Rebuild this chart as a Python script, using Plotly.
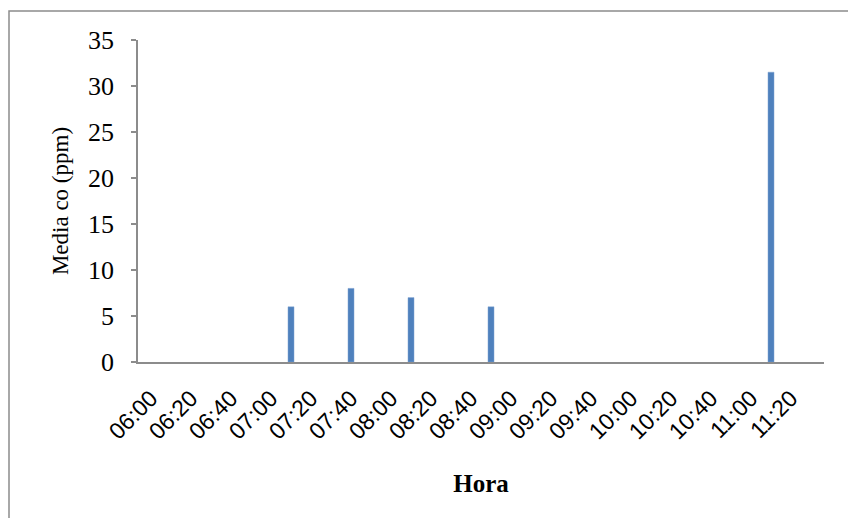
import plotly.graph_objects as go

# Data
bar_times = ["07:10", "07:40", "08:10", "08:50", "11:10"]
co_values = [6, 8, 7, 6, 31.5]
tick_labels = ["06:00", "06:20", "06:40", "07:00", "07:20", "07:40", "08:00", "08:20",
               "08:40", "09:00", "09:20", "09:40", "10:00", "10:20", "10:40", "11:00", "11:20"]
y_ticks = [0, 5, 10, 15, 20, 25, 30, 35]

DAY = "2000-01-01 "
xs = [DAY + t + ":00" for t in bar_times]
tickvals = [DAY + t + ":00" for t in tick_labels]

fig = go.Figure()
fig.add_trace(go.Bar(
    x=xs, y=co_values,
    width=180000,
    marker=dict(color="#4F81BD", line=dict(color="#7FA3D1", width=0.5)),
))

W, H = 848, 518
L, R, T, B = 138, 824, 40, 362

fig.update_layout(
    width=W, height=H,
    margin=dict(l=L, r=W - R, t=T, b=H - B),
    paper_bgcolor="white", plot_bgcolor="white",
    showlegend=False,
    xaxis=dict(
        type="date",
        range=[DAY + "05:53:30", DAY + "11:36:30"],
        tickmode="array", tickvals=tickvals, ticktext=tick_labels,
        tickangle=-45,
        tickfont=dict(family="Liberation Sans, Arial", size=23, color="black"),
        showline=True, linecolor="#8C8C8C", linewidth=1.5,
        showgrid=False, zeroline=False, ticks="",
        ticklabelstandoff=12,
        title=dict(text="<b>Hora</b>", font=dict(family="Liberation Serif, Times New Roman", size=25, color="black"), standoff=31),
    ),
    yaxis=dict(
        range=[0, 35], tickvals=y_ticks,
        tickfont=dict(family="Liberation Serif, Times New Roman", size=26, color="black"),
        showline=True, linecolor="#8C8C8C", linewidth=1.5,
        ticks="outside", ticklen=5, tickcolor="#8C8C8C", tickwidth=1.5,
        ticklabelstandoff=12,
        showgrid=False, zeroline=False,
        title=dict(text="Media co (ppm)", font=dict(family="Liberation Serif, Times New Roman", size=23, color="black"), standoff=13),
    ),
)

pw, ph = R - L, B - T
def px(x):
    return (x - L) / pw
def py(y):
    return (B - y) / ph

fig.add_shape(type="rect", xref="paper", yref="paper",
              x0=px(9), x1=px(870), y0=py(540), y1=py(11),
              line=dict(color="#8C8C8C", width=1.5), fillcolor="rgba(0,0,0,0)", layer="below")

fig.write_html("out.html")
